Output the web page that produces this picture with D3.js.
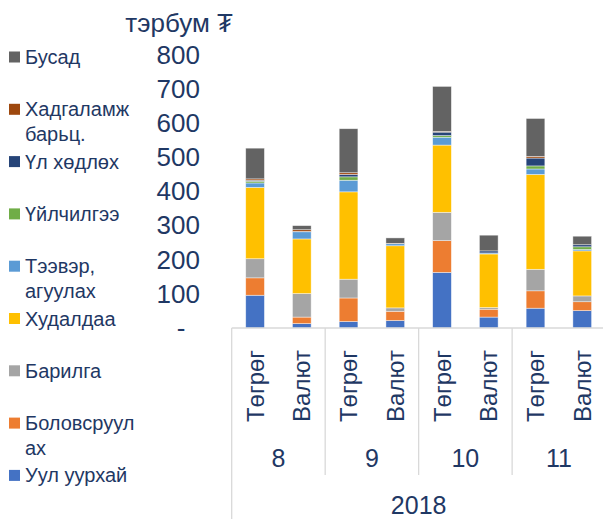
<!DOCTYPE html>
<html>
<head>
<meta charset="utf-8">
<script src="https://cdn.jsdelivr.net/npm/d3@7"></script>
<style>
  body { margin: 0; background: #fff; }
  svg { display: block; font-family: "Liberation Sans", Arial, "DejaVu Sans", sans-serif; }
</style>
</head>
<body>
<div id="chart"></div>
<script>
// --- data ---
const months = ["8", "9", "10", "11"];
const currencies = ["Төгрөг", "Валют"];
const year = "2018";
const yTicks = [0, 100, 200, 300, 400, 500, 600, 700, 800];

// series, bottom to top of each stack; values per bar: 8T, 8V, 9T, 9V, 10T, 10V, 11T, 11V
const mining      = [96, 13, 19, 22, 163, 32, 58, 51];
const processing  = [51, 19, 69, 27, 93, 23, 51, 26];
const construct   = [56, 69, 55, 10, 83, 5, 63, 17];
const trade       = [209, 160, 256, 182, 197, 157, 278, 132];
const transport   = [13, 21, 34, 6, 23, 3, 16, 4];
const services    = [5, 0, 10, 0, 5, 0, 9, 8];
const realEstate  = [3, 1, 7, 0, 10, 6, 23, 6];
const savings     = [4, 5, 5, 1, 2, 0, 5, 0];
const other       = [90, 12, 129, 16, 132, 46, 111, 25];

const seriesNames = ["Уул уурхай", "Боловсруулах", "Барилга", "Худалдаа", "Тээвэр, агуулах",
                     "Үйлчилгээ", "Үл хөдлөх", "Хадгаламж барьц.", "Бусад"];
const legendLines = [["Уул уурхай"], ["Боловсруул", "ах"], ["Барилга"], ["Худалдаа"],
                     ["Тээвэр,", "агуулах"], ["Үйлчилгээ"], ["Үл хөдлөх"], ["Хадгаламж", "барьц."], ["Бусад"]];
const seriesValues = [mining, processing, construct, trade, transport, services, realEstate, savings, other];
const colors = ["#4472C4", "#ED7D31", "#A5A5A5", "#FFC000", "#5B9BD5",
                "#70AD47", "#264478", "#9E480E", "#636363"];

// --- build rows ---
const rows = [];
months.forEach((m, mi) => {
    currencies.forEach((c, ci) => {
        const i = mi * currencies.length + ci;
        const row = { key: m + "|" + c, month: m, cur: c };
        seriesNames.forEach((s, si) => row[s] = seriesValues[si][i]);
        rows.push(row);
    });
});

const W = 603, H = 519;
const textColor = "#1F3864";
const gridColor = "#D9D9D9";

const svg = d3.select("#chart").append("svg")
    .attr("width", W).attr("height", H);

const x = d3.scaleBand()
    .domain(rows.map(d => d.key))
    .range([231.7, 605.6])
    .paddingInner(0.6)
    .paddingOuter(0.3);

const y = d3.scaleLinear()
    .domain([0, 800])
    .range([328, 55]);

const stack = d3.stack().keys(seriesNames)(rows);
const color = d3.scaleOrdinal().domain(seriesNames).range(colors);

// bars (skip empty segments)
svg.append("g").selectAll("g")
    .data(stack)
    .join("g")
    .attr("fill", d => color(d.key))
    .selectAll("rect")
    .data(d => d.filter(s => s[1] - s[0] > 0))
    .join("rect")
    .attr("x", d => x(d.data.key))
    .attr("width", x.bandwidth())
    .attr("y", d => y(d[1]))
    .attr("height", d => y(d[0]) - y(d[1]))
    .attr("stroke", "#fff")
    .attr("stroke-opacity", 0.6)
    .attr("stroke-width", 0.7);

// y axis labels
const yAxis = d3.axisLeft(y).tickValues(yTicks).tickSize(0).tickPadding(3)
    .tickFormat(d => d === 0 ? "-" : d);
const gy = svg.append("g").attr("transform", "translate(203,0)").call(yAxis);
gy.select(".domain").remove();
gy.selectAll("text")
    .attr("fill", textColor)
    .style("font-size", "26px")
    .style("font-family", "inherit");
gy.selectAll(".tick").filter(d => d === 0).select("text")
    .attr("text-anchor", "middle").attr("x", -22);

// unit title
svg.append("text")
    .attr("x", 233).attr("y", 32)
    .attr("text-anchor", "end")
    .attr("fill", textColor)
    .style("font-size", "26px")
    .text("тэрбум ₮");

// x axis: baseline and group dividers
const x0 = x.range()[0], x1 = x.range()[1];
const ax = svg.append("g").attr("stroke", gridColor).attr("stroke-width", 1.3);
ax.append("line").attr("x1", x0).attr("x2", x1).attr("y1", y(0)).attr("y2", y(0));
ax.append("line").attr("x1", x0).attr("x2", x0).attr("y1", y(0)).attr("y2", H);
const groupW = (x1 - x0) / months.length;
months.forEach((m, i) => {
    if (i === 0) return;
    const gx = x0 + i * groupW;
    ax.append("line").attr("x1", gx).attr("x2", gx).attr("y1", y(0)).attr("y2", 475);
});

// currency labels (rotated)
svg.append("g").selectAll("text")
    .data(rows)
    .join("text")
    .attr("transform", d => `translate(${x(d.key) + x.bandwidth() / 2},386) rotate(-90)`)
    .attr("text-anchor", "middle")
    .attr("dominant-baseline", "central")
    .attr("fill", textColor)
    .style("font-size", "24px")
    .text(d => d.cur);

// month labels
svg.append("g").selectAll("text")
    .data(months)
    .join("text")
    .attr("x", (d, i) => x0 + (i + 0.5) * groupW)
    .attr("y", 458)
    .attr("text-anchor", "middle")
    .attr("dominant-baseline", "central")
    .attr("fill", textColor)
    .style("font-size", "25px")
    .text(d => d);

// year label
svg.append("text")
    .attr("x", (x0 + x1) / 2).attr("y", 505)
    .attr("text-anchor", "middle")
    .attr("dominant-baseline", "central")
    .attr("fill", textColor)
    .style("font-size", "25px")
    .text(year);

// legend (top = last series)
const legend = svg.append("g");
const legendOrder = d3.range(seriesNames.length).reverse();
legendOrder.forEach((si, i) => {
    const cy = 57 + i * 52.3;
    const g = legend.append("g");
    g.append("rect")
        .attr("x", 9).attr("y", cy - 5.5)
        .attr("width", 11).attr("height", 11)
        .attr("fill", colors[si]);
    legendLines[si].forEach((line, li) => {
        g.append("text")
            .attr("x", 25).attr("y", cy + li * 24.5)
            .attr("dominant-baseline", "central")
            .attr("fill", textColor)
            .style("font-size", "20px")
            .text(line);
    });
});
</script>
</body>
</html>
